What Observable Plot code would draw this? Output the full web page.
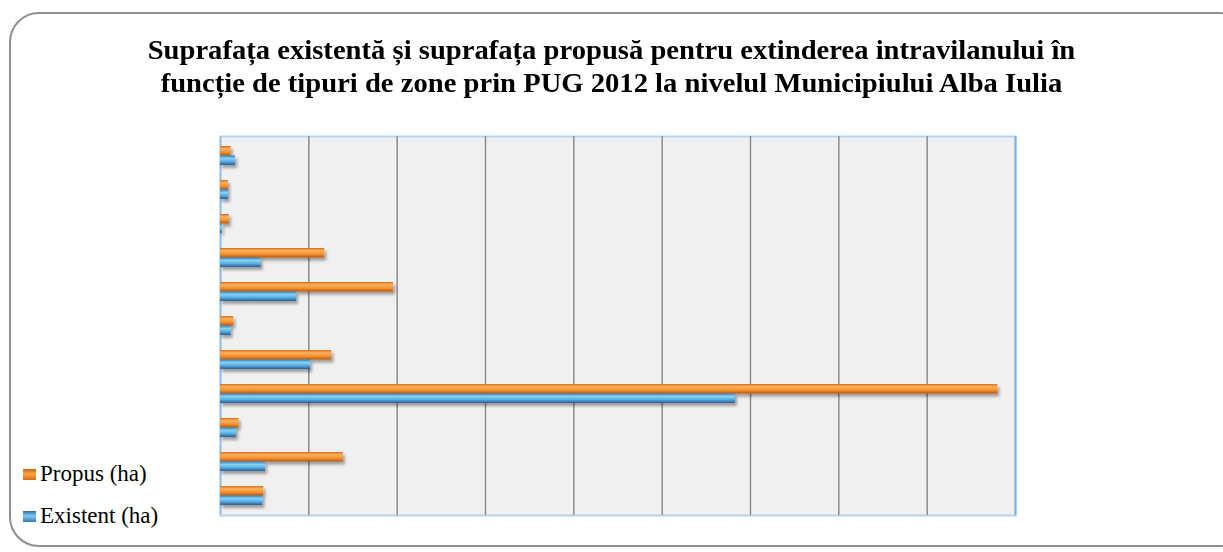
<!DOCTYPE html>
<html><head><meta charset="utf-8">
<script src="https://cdn.jsdelivr.net/npm/d3@7"></script>
<script src="https://cdn.jsdelivr.net/npm/@observablehq/plot@0.6"></script>
<style>
body{margin:0;width:1223px;height:552px;overflow:hidden;background:#fff;position:relative}
#frame{position:absolute;left:9px;top:12px;width:1240px;height:535px;border:2.5px solid #8f8f8f;border-radius:30px;box-sizing:border-box}
#title{position:absolute;left:0;top:34px;width:1223px;text-align:center;font-weight:bold;font-size:27px;line-height:32.5px;color:#000;font-family:'Liberation Serif';transform:scaleX(1.06);transform-origin:612px 0}
#chart{position:absolute;left:0;top:126px}
.leg{position:absolute;left:23px;font-size:23px;line-height:23px;color:#000;white-space:nowrap;font-family:'Liberation Serif'}
.sw{display:inline-block;width:13px;height:11px;margin-right:4px;vertical-align:1px}
</style></head>
<body>
<div id="frame"></div>
<div id="title">Suprafața existentă și suprafața propusă pentru extinderea intravilanului  în<br>funcție de tipuri  de zone prin PUG 2012 la nivelul  Municipiului  Alba Iulia</div>
<div id="chart"></div>
<div class="leg" style="top:462px"><span class="sw" style="background:linear-gradient(#c95f0c,#f9a64f 45%,#d86c12)"></span>Propus (ha)</div>
<div class="leg" style="top:504px"><span class="sw" style="background:linear-gradient(#2f6aa6,#7fcdf3 45%,#3575b5)"></span>Existent (ha)</div>
<script>
// categories (unlabelled in the source), top to bottom
const categorii = [1, 2, 3, 4, 5, 6, 7, 8, 9, 10, 11];
const existent = [17, 9, 2, 46, 86, 12, 102, 583, 18, 51, 48];
const propus   = [12, 9, 10, 118, 196, 15, 126, 880, 21, 139, 49];
const gridTicks = [100, 200, 300, 400, 500, 600, 700, 800];
const xMax = 900;

const data = categorii.map((c, i) => ({c, e: existent[i], p: propus[i]}));

const chart = Plot.plot({
  width: 1223, height: 400,
  marginLeft: 220, marginRight: 208, marginTop: 10, marginBottom: 11,
  x: {domain: [0, xMax], axis: null},
  y: {domain: categorii, axis: null, paddingInner: 0.45, paddingOuter: 0.225},
  marks: [
    Plot.frame({fill: "#f0f0f0", stroke: "#b7d3ee", strokeWidth: 2}),
    Plot.ruleX(gridTicks, {stroke: "#8c8c8c", strokeWidth: 1.5}),
    Plot.ruleX([0], {stroke: "#8ab8e4", strokeWidth: 1.5}),
    Plot.ruleX([xMax], {stroke: "#7fb0e0", strokeWidth: 2}),
    Plot.barX(data, {x: "p", y: "c", fill: "url(#gp)", insetBottom: 9.5}),
    Plot.barX(data, {x: "e", y: "c", fill: "url(#ge)", insetTop: 9.5})
  ]
});
chart.insertAdjacentHTML("afterbegin", `<defs>
<linearGradient id="gp" x1="0" y1="0" x2="0" y2="1">
<stop offset="0" stop-color="#d86f18"/><stop offset="0.3" stop-color="#fbb061"/><stop offset="0.65" stop-color="#f5912f"/><stop offset="1" stop-color="#b8560c"/></linearGradient>
<linearGradient id="ge" x1="0" y1="0" x2="0" y2="1">
<stop offset="0" stop-color="#3a78b8"/><stop offset="0.3" stop-color="#86d3f5"/><stop offset="0.6" stop-color="#5cb3e6"/><stop offset="1" stop-color="#2a5d95"/></linearGradient>
<filter id="sh" x="-5%" y="-50%" width="110%" height="250%"><feDropShadow dx="2" dy="3" stdDeviation="1.6" flood-color="#000" flood-opacity="0.35"/></filter>
</defs>`);
chart.querySelectorAll('g[aria-label="bar"]').forEach(g => g.setAttribute("filter", "url(#sh)"));
document.getElementById("chart").appendChild(chart);
</script>
</body></html>
